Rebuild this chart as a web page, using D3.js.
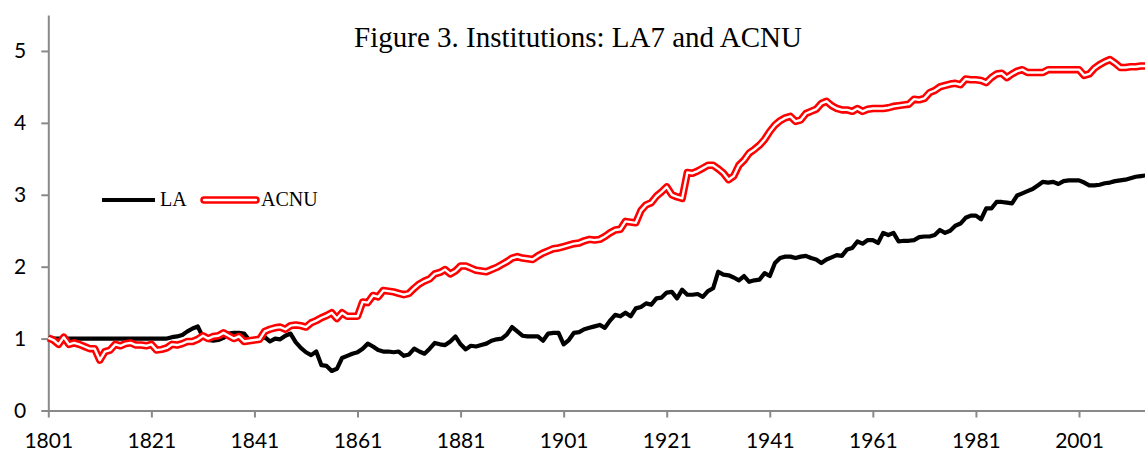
<!DOCTYPE html>
<html>
<head>
<meta charset="utf-8">
<script src="https://cdnjs.cloudflare.com/ajax/libs/d3/7.8.5/d3.min.js"></script>
<style>
  body { margin: 0; background: #fff; }
  svg { display: block; }
</style>
</head>
<body>
<script>
// data, one value per year 1801..2014
var firstYear = 1801;
var lastYear = 2014;

var la = [
  1.00, 1.00, 1.00, 1.00, 1.00, 1.00, 1.00, 1.00, 1.00, 1.00, // 1801
  1.00, 1.00, 1.00, 1.00, 1.00, 1.00, 1.00, 1.00, 1.00, 1.00, // 1811
  1.00, 1.00, 1.00, 1.00, 1.02, 1.03, 1.05, 1.10, 1.14, 1.17, // 1821
  1.02, 0.98, 0.97, 0.98, 1.01, 1.07, 1.08, 1.08, 1.07, 0.98, // 1831
  0.98, 0.99, 1.02, 0.96, 1.00, 0.99, 1.04, 1.07, 0.95, 0.87, // 1841
  0.81, 0.77, 0.82, 0.63, 0.62, 0.55, 0.58, 0.73, 0.76, 0.79, // 1851
  0.81, 0.86, 0.93, 0.89, 0.84, 0.82, 0.82, 0.81, 0.82, 0.76, // 1861
  0.78, 0.86, 0.82, 0.79, 0.86, 0.94, 0.92, 0.91, 0.96, 1.03, // 1871
  0.92, 0.85, 0.90, 0.89, 0.91, 0.93, 0.97, 0.99, 1.00, 1.06, // 1881
  1.16, 1.10, 1.04, 1.03, 1.03, 1.03, 0.97, 1.07, 1.08, 1.08, // 1891
  0.92, 0.98, 1.08, 1.09, 1.13, 1.15, 1.17, 1.19, 1.15, 1.25, // 1901
  1.33, 1.31, 1.36, 1.31, 1.42, 1.44, 1.49, 1.47, 1.56, 1.57, // 1911
  1.64, 1.65, 1.56, 1.68, 1.61, 1.61, 1.62, 1.58, 1.66, 1.70, // 1921
  1.93, 1.89, 1.88, 1.85, 1.81, 1.87, 1.79, 1.81, 1.82, 1.91, // 1931
  1.87, 2.05, 2.12, 2.14, 2.14, 2.12, 2.14, 2.15, 2.12, 2.10, // 1941
  2.05, 2.10, 2.13, 2.16, 2.15, 2.24, 2.26, 2.35, 2.32, 2.37, // 1951
  2.37, 2.33, 2.47, 2.44, 2.47, 2.35, 2.36, 2.36, 2.37, 2.41, // 1961
  2.42, 2.42, 2.44, 2.51, 2.47, 2.50, 2.57, 2.60, 2.68, 2.71, // 1971
  2.71, 2.66, 2.81, 2.81, 2.90, 2.90, 2.89, 2.88, 2.99, 3.02, // 1981
  3.05, 3.08, 3.13, 3.18, 3.17, 3.18, 3.15, 3.19, 3.20, 3.20, // 1991
  3.20, 3.17, 3.13, 3.13, 3.14, 3.16, 3.17, 3.19, 3.20, 3.21, // 2001
  3.23, 3.25, 3.26, 3.27                                      // 2011
];

var acnu = [
  1.01, 0.98, 0.92, 1.02, 0.92, 0.94, 0.92, 0.89, 0.86, 0.86, // 1801
  0.70, 0.82, 0.84, 0.92, 0.90, 0.93, 0.94, 0.91, 0.91, 0.90, // 1811
  0.92, 0.84, 0.85, 0.87, 0.92, 0.91, 0.93, 0.96, 0.96, 0.99, // 1821
  1.04, 1.00, 1.03, 1.04, 1.08, 1.04, 1.00, 1.03, 0.96, 0.97, // 1831
  0.98, 0.99, 1.10, 1.13, 1.15, 1.16, 1.13, 1.18, 1.19, 1.18, // 1841
  1.16, 1.22, 1.25, 1.29, 1.32, 1.36, 1.28, 1.36, 1.31, 1.31, // 1851
  1.31, 1.51, 1.50, 1.60, 1.58, 1.67, 1.66, 1.65, 1.63, 1.61, // 1861
  1.63, 1.70, 1.76, 1.80, 1.83, 1.90, 1.92, 1.96, 1.90, 1.94, // 1871
  2.01, 2.01, 1.98, 1.95, 1.94, 1.93, 1.96, 1.99, 2.03, 2.07, // 1881
  2.12, 2.14, 2.12, 2.11, 2.10, 2.15, 2.19, 2.22, 2.25, 2.26, // 1891
  2.28, 2.30, 2.32, 2.33, 2.36, 2.38, 2.37, 2.38, 2.42, 2.47, // 1901
  2.51, 2.52, 2.63, 2.62, 2.61, 2.78, 2.86, 2.89, 2.98, 3.04, // 1911
  3.11, 3.00, 2.97, 2.95, 3.31, 3.30, 3.33, 3.37, 3.41, 3.41, // 1921
  3.36, 3.30, 3.21, 3.26, 3.41, 3.48, 3.58, 3.63, 3.69, 3.77, // 1931
  3.88, 3.97, 4.03, 4.07, 4.09, 4.02, 4.04, 4.13, 4.16, 4.19, // 1941
  4.27, 4.30, 4.24, 4.20, 4.18, 4.18, 4.16, 4.20, 4.16, 4.19, // 1951
  4.20, 4.20, 4.20, 4.21, 4.23, 4.24, 4.25, 4.26, 4.33, 4.32, // 1961
  4.34, 4.42, 4.45, 4.50, 4.52, 4.54, 4.55, 4.53, 4.61, 4.60, // 1971
  4.60, 4.59, 4.56, 4.63, 4.68, 4.69, 4.63, 4.68, 4.72, 4.74, // 1981
  4.70, 4.70, 4.70, 4.70, 4.74, 4.74, 4.74, 4.74, 4.74, 4.74, // 1991
  4.74, 4.66, 4.68, 4.76, 4.81, 4.85, 4.88, 4.83, 4.77, 4.77, // 2001
  4.78, 4.78, 4.79, 4.79                                      // 2011
];

var xTicks = [1801, 1821, 1841, 1861, 1881, 1901, 1921, 1941, 1961, 1981, 2001];
var yTicks = [0, 1, 2, 3, 4, 5];
var seriesNames = ["LA", "ACNU"];
var title = "Figure 3. Institutions: LA7 and ACNU";

// set up svg
var w = 1145;
var h = 452;

var svg = d3.select("body")
            .append("svg")
            .attr("width", w)
            .attr("height", h);

var years = d3.range(firstYear, lastYear + 1);

var xScale = d3.scaleLinear()
               .domain([firstYear, lastYear])
               .range([48.3, 1146]);

var yScale = d3.scaleLinear()
               .domain([0, 5.5])
               .range([410.5, 15]);

var axisColor = "#898989";
var tickFont = "Lato, 'Open Sans', sans-serif";

// y axis
var yAxis = d3.axisLeft(yScale)
              .tickValues(yTicks)
              .tickFormat(d3.format("d"))
              .tickSize(7)
              .tickSizeOuter(0)
              .tickPadding(15);

var gy = svg.append("g")
            .attr("id", "y-axis")
            .attr("transform", "translate(" + xScale(firstYear) + ",0)")
            .call(yAxis);

// x axis
var xAxis = d3.axisBottom(xScale)
              .tickValues(xTicks)
              .tickFormat(d3.format("d"))
              .tickSize(7)
              .tickSizeOuter(0)
              .tickPadding(16);

var gx = svg.append("g")
            .attr("id", "x-axis")
            .attr("transform", "translate(0," + yScale(0) + ")")
            .call(xAxis);

[gx, gy].forEach(function(g) {
  g.select(".domain").attr("stroke", axisColor).attr("stroke-width", 2);
  g.selectAll(".tick line").attr("stroke", axisColor).attr("stroke-width", 2);
  g.selectAll(".tick text")
    .attr("fill", "#000")
    .style("font-family", tickFont)
    .style("font-size", "21px");
});

// lines
var line = function(values) {
  return d3.line()
           .x((d, i) => xScale(years[i]))
           .y((d) => yScale(d))(values);
};

svg.append("path")
   .attr("d", line(la))
   .attr("fill", "none")
   .attr("stroke", "#000")
   .attr("stroke-width", 4.2)
   .attr("stroke-linejoin", "round");

// double red line: wide red with a thin white core
svg.append("path")
   .attr("d", line(acnu))
   .attr("fill", "none")
   .attr("stroke", "#ff0000")
   .attr("stroke-width", 7.5)
   .attr("stroke-linejoin", "round");

svg.append("path")
   .attr("d", line(acnu))
   .attr("fill", "none")
   .attr("stroke", "#fff")
   .attr("stroke-width", 2.4)
   .attr("stroke-linejoin", "round");

// title
svg.append("text")
   .attr("id", "title")
   .attr("x", 578)
   .attr("y", 47)
   .attr("text-anchor", "middle")
   .style("font-family", "'Liberation Serif', 'Times New Roman', serif")
   .style("font-size", "29px")
   .text(title);

// legend
var legend = svg.append("g").attr("id", "legend");
var serifFont = "'Liberation Serif', 'Times New Roman', serif";

legend.append("line")
      .attr("x1", 102).attr("x2", 155)
      .attr("y1", 200).attr("y2", 200)
      .attr("stroke", "#000")
      .attr("stroke-width", 4.2);

legend.append("text")
      .attr("x", 160).attr("y", 206)
      .style("font-family", serifFont)
      .style("font-size", "20px")
      .text(seriesNames[0]);

legend.append("line")
      .attr("x1", 204).attr("x2", 256)
      .attr("y1", 200).attr("y2", 200)
      .attr("stroke", "#ff0000")
      .attr("stroke-width", 7.5)
      .attr("stroke-linecap", "round");

legend.append("line")
      .attr("x1", 204).attr("x2", 256)
      .attr("y1", 200).attr("y2", 200)
      .attr("stroke", "#fff")
      .attr("stroke-width", 2.4)
      .attr("stroke-linecap", "round");

legend.append("text")
      .attr("x", 261).attr("y", 206)
      .style("font-family", serifFont)
      .style("font-size", "20px")
      .text(seriesNames[1]);
</script>
</body>
</html>
